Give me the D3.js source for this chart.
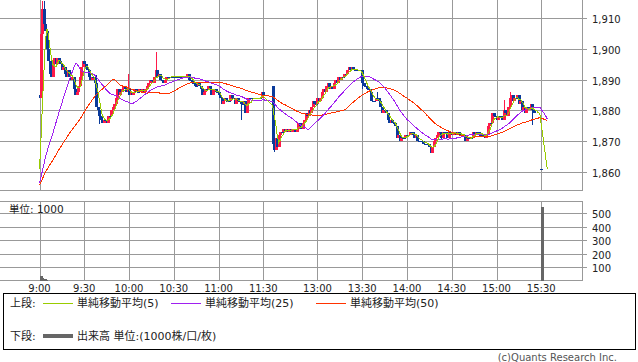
<!DOCTYPE html>
<html>
<head>
<meta charset="utf-8">
<script src="https://cdn.jsdelivr.net/npm/d3@7"></script>
<style>
  body { margin: 0; background: #fff; }
  svg { display: block; }
  text { font-family: "DejaVu Sans", "Noto Sans CJK JP", sans-serif; font-size: 10px; fill: #222; }
  .legend text { font-size: 11px; }
</style>
</head>
<body>
<svg width="638" height="362"></svg>
<script>
// 1-minute closes, morning 9:00-11:30
var amClose = [
  1884,1905,1913,1908,1906,1900,1896,1892,1891,1896,
  1897,1895,1897,1896,1895,1893,1894,1892,1891,1893,
  1891,1890,1891,1887,1885,1886,1888,1891,1894,1896,
  1895,1894,1893,1891,1890,1891,1891,1889,1881,1880,
  1878,1877,1876,1877,1877,1876,1878,1878,1880,1881,
  1882,1884,1887,1885,1886,1887,1888,1887,1886,1887,
  1885,1886,1885,1886,1887,1886,1886,1887,1886,1887,
  1886,1887,1888,1889,1890,1890,1889,1891,1893,1891,
  1892,1890,1890,1889,1890,1891,1891,1891,1891,1891,
  1891,1891,1891,1891,1891,1891,1891,1891,1891,1892,
  1890,1890,1889,1889,1888,1888,1889,1888,1887,1885,
  1886,1887,1887,1888,1887,1885,1887,1887,1886,1886,
  1885,1884,1882,1883,1884,1883,1883,1883,1885,1884,
  1884,1882,1884,1883,1883,1882,1882,1883,1879,1882,
  1884,1884,1884,1884,1884,1884,1884,1884,1884,1886,
  1885
];
// 1-minute closes, afternoon 12:30-15:30
var pmClose = [
  1869,1867,1871,1868,1872,1873,1873,1874,1873,1874,
  1873,1874,1873,1874,1874,1873,1874,1876,1875,1874,
  1876,1877,1879,1878,1880,1879,1881,1883,1882,1882,
  1884,1883,1884,1886,1887,1886,1888,1889,1887,1888,
  1887,1889,1890,1889,1891,1890,1891,1891,1892,1892,
  1893,1894,1893,1894,1893,1893,1893,1893,1893,1893,
  1889,1888,1888,1887,1887,1886,1883,1883,1883,1884,
  1884,1883,1881,1879,1880,1880,1879,1877,1876,1877,
  1876,1876,1875,1871,1872,1870,1871,1871,1871,1872,
  1872,1872,1873,1873,1872,1871,1872,1870,1870,1870,
  1870,1869,1869,1869,1869,1868,1866,1868,1870,1871,
  1872,1873,1873,1871,1873,1873,1873,1871,1873,1873,
  1872,1873,1873,1872,1873,1872,1872,1872,1872,1870,
  1871,1871,1871,1871,1873,1872,1873,1873,1872,1872,
  1872,1872,1871,1872,1875,1876,1876,1879,1878,1878,
  1877,1878,1878,1878,1877,1880,1879,1878,1881,1884,
  1885,1883,1884,1884,1885,1882,1883,1880,1881,1879,
  1881,1881,1880,1882,1880,1879,1879,1879,1879,1879,
  1861
];
// closes carried after the last bar (moving averages only)
var tailClose = [1861, 1861, 1861, 1861];
var prevDayClose = 1855;

var amOpen = 1885, pmOpen = 1888, closeAuctionOpen = 1861;
var pmNoTrade = [176, 177, 178, 179];

// extra wicks [session, minute, value]
var wickHigh = [["am",0,1897],["am",2,1915.5],["am",3,1915.5],["am",38,1891.5],["am",59,1892],
                ["am",78,1899],["pm",70,1886],["pm",155,1883.3],["pm",159,1886]];
var wickLow = [["am",40,1875.5],["am",135,1877],["pm",1,1866.3],["pm",60,1887],
               ["pm",113,1870.3],["pm",174,1875.2]];

// volume (x1000 shares)
var amVol = [[0,32],[1,15],[2,14],[3,12],[4,5]];
var pmVol = [[180,550]];

var timeTicks = ["9:00","9:30","10:00","10:30","11:00","11:30","13:00","13:30","14:00","14:30","15:00","15:30"];
var priceTicks = [1860,1870,1880,1890,1900,1910];
var volTicks = [100,200,300,400,500];

var maSpecs = [{n:50,color:"#ff3300"},{n:25,color:"#a020f0"},{n:5,color:"#99cc00"}];

function toMin(s){ var p = s.split(":"); return +p[0]*60 + +p[1]; }

// build bars
var bars = [];
amClose.forEach(function(c, i){ bars.push({s:"am", i:i, t:540+i, c:c, trade:true}); });
pmClose.forEach(function(c, i){ bars.push({s:"pm", i:i, t:750+i, c:c, trade:pmNoTrade.indexOf(i) < 0}); });
tailClose.forEach(function(c, i){ bars.push({s:"tail", i:i, t:931+i, c:c, trade:false}); });

bars.forEach(function(b, k){
  if (b.s === "am" && b.i === 0) b.o = amOpen;
  else if (b.s === "pm" && b.i === 0) b.o = pmOpen;
  else if (b.s === "pm" && b.i === 180) b.o = closeAuctionOpen;
  else b.o = bars[k-1].c;
  b.h = Math.max(b.o, b.c);
  b.l = Math.min(b.o, b.c);
});
function find(s, i){ return bars.filter(function(b){ return b.s === s && b.i === i; })[0]; }
wickHigh.forEach(function(w){ var b = find(w[0], w[1]); b.h = Math.max(b.h, w[2]); });
wickLow.forEach(function(w){ var b = find(w[0], w[1]); b.l = Math.min(b.l, w[2]); });

var closes = bars.map(function(b){ return b.c; });
function movingAvg(n){
  return closes.map(function(c, k){
    var s = 0;
    for (var j = k-n+1; j <= k; j++) s += j < 0 ? prevDayClose : closes[j];
    return {t: bars[k].t, v: s/n};
  });
}

var svg = d3.select("svg");
var W = 582.5;
var xs = d3.scaleLinear().domain([540, 690, 750, 934]).range([39.5, 263.3, 272.7, 272.7 + 184*1.492]);
var ys = d3.scaleLinear().domain([1853.87, 1915.96]).range([190.5, 0]);
var vs = d3.scaleLinear().domain([0, 592.5]).range([280.5, 201]);
function px(v){ return Math.round(v) + 0.5; }

var grid = svg.append("g").attr("stroke", "#999").attr("shape-rendering", "crispEdges");

// price panel grid + frame
timeTicks.forEach(function(s){
  var x = px(xs(toMin(s)));
  grid.append("line").attr("x1", x).attr("x2", x).attr("y1", 0).attr("y2", 190.5);
  grid.append("line").attr("x1", x).attr("x2", x).attr("y1", 201.5).attr("y2", 280.5);
});
priceTicks.forEach(function(p){
  var y = px(ys(p));
  grid.append("line").attr("x1", 0).attr("x2", W + 4).attr("y1", y).attr("y2", y);
  svg.append("text").attr("x", 592).attr("y", y + 4).text(d3.format(",")(p));
});
grid.append("line").attr("x1", W).attr("x2", W).attr("y1", 0).attr("y2", 190.5);
grid.append("line").attr("x1", 0).attr("x2", W).attr("y1", 190.5).attr("y2", 190.5);

// volume panel grid + frame
volTicks.forEach(function(v){
  var y = px(vs(v));
  grid.append("line").attr("x1", 0).attr("x2", W + 4).attr("y1", y).attr("y2", y);
  svg.append("text").attr("x", 592).attr("y", y + 4).text(v);
});
grid.append("line").attr("x1", 0).attr("x2", W).attr("y1", 201.5).attr("y2", 201.5);
grid.append("line").attr("x1", 0).attr("x2", W).attr("y1", 280.5).attr("y2", 280.5);
grid.append("line").attr("x1", W).attr("x2", W).attr("y1", 201.5).attr("y2", 280.5);

svg.append("text").attr("x", 9).attr("y", 213).style("font-size", "10.5px").text("単位: 1000");

// time labels
timeTicks.forEach(function(s){
  svg.append("text").attr("x", xs(toMin(s))).attr("y", 292)
    .attr("text-anchor", "middle").text(s);
});

// candles
var cg = svg.append("g").attr("shape-rendering", "crispEdges");
bars.filter(function(b){ return b.trade; }).forEach(function(b){
  var col = b.c > b.o ? "#ff1a4a" : "#0a3a9a";
  var x = Math.round(xs(b.t));
  cg.append("line").attr("x1", x + 0.5).attr("x2", x + 0.5)
    .attr("y1", ys(b.h)).attr("y2", ys(b.l)).attr("stroke", col);
  var y0 = ys(Math.max(b.o, b.c)), y1 = ys(Math.min(b.o, b.c));
  cg.append("rect").attr("x", x - 1).attr("width", 3)
    .attr("y", y0).attr("height", Math.max(1, y1 - y0)).attr("fill", col);
});

// moving averages
var line = d3.line().x(function(d){ return xs(d.t); }).y(function(d){ return ys(d.v); });
maSpecs.forEach(function(m){
  svg.append("path").datum(movingAvg(m.n)).attr("d", line)
    .attr("fill", "none").attr("stroke", m.color).attr("stroke-width", 1)
    .attr("shape-rendering", "crispEdges");
});

// volume bars
var vg = svg.append("g").attr("fill", "#666").attr("shape-rendering", "crispEdges");
amVol.map(function(v){ return [540 + v[0], v[1]]; })
  .concat(pmVol.map(function(v){ return [750 + v[0], v[1]]; }))
  .forEach(function(v){
    vg.append("rect").attr("x", Math.round(xs(v[0]))).attr("width", 3)
      .attr("y", vs(v[1])).attr("height", vs(0) - vs(v[1]));
  });

// legend
var lg = svg.append("g").attr("class", "legend");
lg.append("rect").attr("x", 3.5).attr("y", 293.5).attr("width", 632).attr("height", 56)
  .attr("fill", "none").attr("stroke", "#000").attr("shape-rendering", "crispEdges");
var legendItems = [
  {x: 43, label: "単純移動平均(5)", color: "#99cc00"},
  {x: 171, label: "単純移動平均(25)", color: "#a020f0"},
  {x: 316, label: "単純移動平均(50)", color: "#ff3300"}
];
lg.append("text").attr("x", 10).attr("y", 307).text("上段:");
legendItems.forEach(function(d){
  lg.append("line").attr("x1", d.x).attr("x2", d.x + 30).attr("y1", 303.5).attr("y2", 303.5)
    .attr("stroke", d.color).attr("shape-rendering", "crispEdges");
  lg.append("text").attr("x", d.x + 34).attr("y", 307).text(d.label);
});
lg.append("text").attr("x", 10).attr("y", 340).text("下段:");
lg.append("line").attr("x1", 43).attr("x2", 73).attr("y1", 336).attr("y2", 336)
  .attr("stroke", "#666").attr("stroke-width", 4);
lg.append("text").attr("x", 77).attr("y", 340).text("出来高 単位:(1000株/口/枚)");

svg.append("text").attr("x", 617).attr("y", 361).attr("text-anchor", "end")
  .style("fill", "#555").text("(c)Quants Research Inc.");
</script>
</body>
</html>
